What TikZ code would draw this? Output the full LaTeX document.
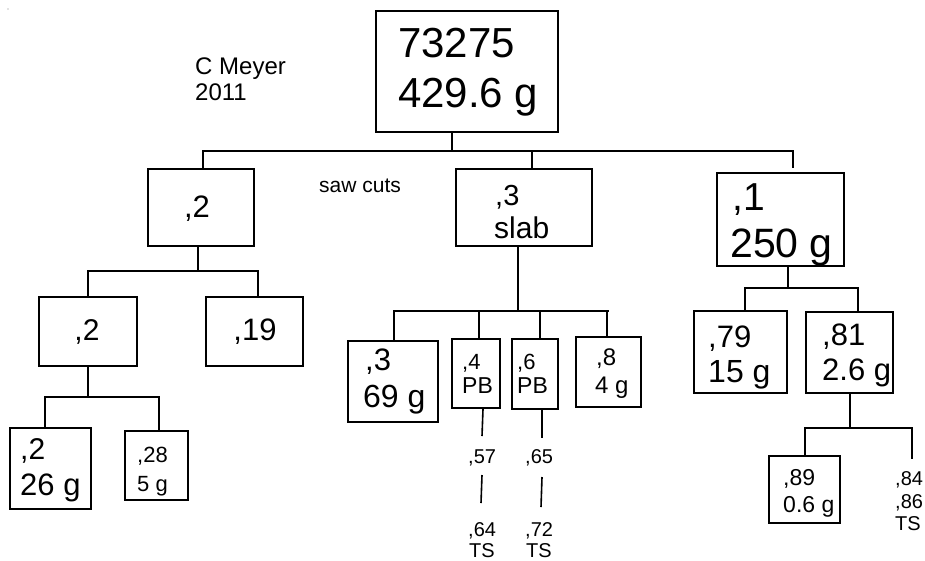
\documentclass[tikz,border=0pt]{standalone}
\usepackage{fontspec}
\setmainfont{Liberation Sans}
\usetikzlibrary{fit}
\newcommand{\fsz}[1]{\fontsize{#1}{#1}\selectfont}
\begin{document}
\begin{tikzpicture}[x=1pt,y=-1pt,
  box/.style={draw, line width=1.8pt, inner sep=0pt},
  ln/.style={line width=1.8pt, line cap=rect},
  tx/.style={anchor=base west, inner sep=0pt},
  tc/.style={anchor=base, inner sep=0pt}]
\useasboundingbox (0,0) rectangle (925,560);
\fill[gray] (8,9) circle (0.6pt);

% ---- boxes ----
\node[box, fit={(376,11) (558,132)}] (top) {};
\node[box, fit={(148,169) (254,246)}] (a) {};
\node[box, fit={(456,169) (592,246)}] (b) {};
\node[box, fit={(717,173) (844,266)}] (c) {};
\node[box, fit={(39,297) (137,366)}] (a1) {};
\node[box, fit={(206,297) (303,366)}] (a2) {};
\node[box, fit={(10,428) (91,509)}] (a11) {};
\node[box, fit={(125,431) (188,500)}] (a12) {};
\node[box, fit={(348,341) (438,422)}] (b1) {};
\node[box, fit={(452,339) (500,408)}] (b2) {};
\node[box, fit={(512,339) (558,409)}] (b3) {};
\node[box, fit={(576,337) (641,407)}] (b4) {};
\node[box, fit={(694,311) (787,393)}] (c1) {};
\node[box, fit={(806,312) (893,393)}] (c2) {};
\node[box, fit={(769,456) (840,523)}] (c21) {};

% ---- texts ----
\node[tx, font=\fsz{42}] (t1) at (398,57) {73275};
\node[tx, font=\fsz{42}] (t2) at (398,107) {429.6 g};
\node[tx, font=\fsz{24}] (cm1) at (195,74) {C Meyer};
\node[tx, font=\fsz{24}] (cm2) at (195,100) {2011};
\node[tx, font=\fsz{21}] (saw) at (319,192) {saw cuts};
\node[tc, font=\fsz{31}] (at) at (197,217) {,2};
\node[tx, font=\fsz{29}] (bt1) at (495,205) {,3};
\node[tx, font=\fsz{30}] (bt2) at (494,238) {slab};
\node[tx, font=\fsz{39}] (ct1) at (732,210) {,1};
\node[tx, font=\fsz{41}] (ct2) at (730,257) {250 g};
\node[tc, font=\fsz{30}] (a1t) at (87,340) {,2};
\node[tc, font=\fsz{31}] (a2t) at (255,340) {,19};
\node[tx, font=\fsz{30}] (a11t1) at (20,459) {,2};
\node[tx, font=\fsz{31}] (a11t2) at (20,495) {26 g};
\node[tx, font=\fsz{22}] (a12t1) at (137,462) {,28};
\node[tx, font=\fsz{22}] (a12t2) at (137,491) {5 g};
\node[tx, font=\fsz{31}] (b1t1) at (365,370) {,3};
\node[tx, font=\fsz{32}] (b1t2) at (363,407) {69 g};
\node[tx, font=\fsz{22}] (b2t1) at (462,369) {,4};
\node[tx, font=\fsz{23}] (b2t2) at (462,393) {PB};
\node[tx, font=\fsz{22}] (b3t1) at (517,369) {,6};
\node[tx, font=\fsz{23}] (b3t2) at (517,393) {PB};
\node[tx, font=\fsz{24}] (b4t1) at (596,365) {,8};
\node[tx, font=\fsz{24}] (b4t2) at (595,393) {4 g};
\node[tx, font=\fsz{20}] (s57) at (468,463) {,57};
\node[tx, font=\fsz{20}] (s64) at (468,536) {,64};
\node[tx, font=\fsz{20}] (s64b) at (469,557) {TS};
\node[tx, font=\fsz{20}] (s65) at (525,463) {,65};
\node[tx, font=\fsz{20}] (s72) at (525,536) {,72};
\node[tx, font=\fsz{20}] (s72b) at (526,557) {TS};
\node[tx, font=\fsz{31}] (c1t1) at (708,347) {,79};
\node[tx, font=\fsz{32}] (c1t2) at (708,382) {15 g};
\node[tx, font=\fsz{31}] (c2t1) at (822,345) {,81};
\node[tx, font=\fsz{31}] (c2t2) at (822,380) {2.6 g};
\node[tx, font=\fsz{23}] (c21t1) at (783,485) {,89};
\node[tx, font=\fsz{23}] (c21t2) at (783,512) {0.6 g};
\node[tx, font=\fsz{20}] (s84) at (895,485) {,84};
\node[tx, font=\fsz{20}] (s86) at (895,508) {,86};
\node[tx, font=\fsz{20}] (s86b) at (895,530) {TS};

% ---- junction coordinates ----
\coordinate (j0) at (452,151);
\coordinate (h0a) at (203,151);
\coordinate (h0b) at (793,151);
\coordinate (m0) at (532,151);
\coordinate (r0) at (793,167);

\coordinate (ja) at (198,271);
\coordinate (haa) at (88,271);
\coordinate (hab) at (258,271);
\coordinate (ja1) at (88,397);
\coordinate (ha1a) at (45,397);
\coordinate (ha1b) at (159,397);

\coordinate (jb) at (518,311);
\coordinate (hba) at (394,311);
\coordinate (hbb) at (608,311);
\coordinate (xb2) at (479,311);
\coordinate (xb3) at (540,311);
\coordinate (xb4) at (607,311);

\coordinate (jc) at (788,288);
\coordinate (hca) at (745,288);
\coordinate (hcb) at (858,288);
\coordinate (jc2) at (850,428);
\coordinate (hc2a) at (805,428);
\coordinate (hc2b) at (912,428);
\coordinate (e84) at (912,458);

% ---- connectors ----
\draw[ln] (top.south -| j0) -- (j0);
\draw[ln] (h0a) -- (h0b);
\draw[ln] (h0a) -- (a.north -| h0a);
\draw[ln] (m0) -- (b.north -| m0);
\draw[ln] (h0b) -- (r0);

\draw[ln] (a.south -| ja) -- (ja);
\draw[ln] (haa) -- (hab);
\draw[ln] (haa) -- (a1.north -| haa);
\draw[ln] (hab) -- (a2.north -| hab);
\draw[ln] (a1.south -| ja1) -- (ja1);
\draw[ln] (ha1a) -- (ha1b);
\draw[ln] (ha1a) -- (a11.north -| ha1a);
\draw[ln] (ha1b) -- (a12.north -| ha1b);

\draw[ln] (b.south -| jb) -- (jb);
\draw[ln] (hba) -- (hbb);
\draw[ln] (hba) -- (b1.north -| hba);
\draw[ln] (xb2) -- (b2.north -| xb2);
\draw[ln] (xb3) -- (b3.north -| xb3);
\draw[ln] (xb4) -- (b4.north -| xb4);

\draw[line width=1.6pt] (483,409) -- (482,436);
\draw[line width=1.6pt] (482,475) -- (481,503);
\draw[line width=1.6pt] (542,410) -- (542,438);
\draw[line width=1.6pt] (542,477) -- (541,507);

\draw[ln] (c.south -| jc) -- (jc);
\draw[ln] (hca) -- (hcb);
\draw[ln] (hca) -- (c1.north -| hca);
\draw[ln] (hcb) -- (c2.north -| hcb);
\draw[ln] (c2.south -| jc2) -- (jc2);
\draw[ln] (hc2a) -- (hc2b);
\draw[ln] (hc2a) -- (c21.north -| hc2a);
\draw[ln] (hc2b) -- (e84);
\end{tikzpicture}
\end{document}
